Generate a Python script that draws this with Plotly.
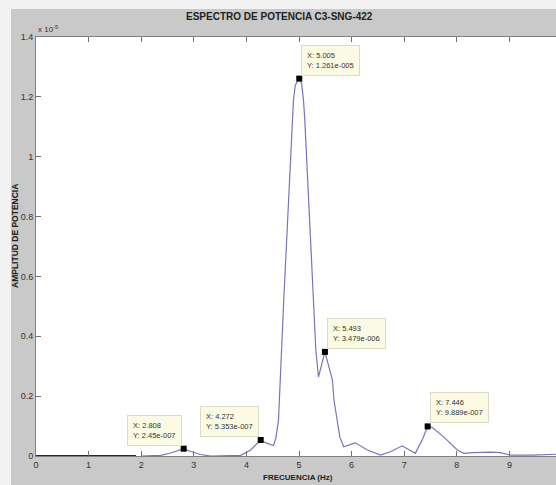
import plotly.graph_objects as go

# Power spectrum samples (frequency in Hz, power amplitude)
freq = [2.00, 2.37, 2.56, 2.808, 2.94, 3.13, 3.32, 3.60, 3.89, 4.08, 4.272,
        4.38, 4.515, 4.56, 4.61, 4.71, 4.87, 4.895, 4.93, 5.005, 5.05, 5.085,
        5.11, 5.27, 5.32, 5.37, 5.493, 5.635, 5.665, 5.775, 5.85, 6.07, 6.30,
        6.55, 6.74, 6.96, 7.09, 7.21, 7.34, 7.446, 7.53, 7.75, 8.01, 8.13,
        8.32, 8.64, 8.83, 9.02, 9.45, 9.90]
power = [0.0, 2.0e-8, 1.0e-7, 2.45e-7, 1.5e-7, 5.0e-8, 0.0, 0.0, 2.0e-8,
         2.0e-7, 5.353e-7, 4.3e-7, 3.5e-7, 6.0e-7, 1.2e-6, 5.21e-6, 1.123e-5,
         1.19e-5, 1.24e-5, 1.261e-5, 1.245e-5, 1.19e-5, 1.123e-5, 5.21e-6,
         3.54e-6, 2.64e-6, 3.479e-6, 2.54e-6, 1.87e-6, 6.4e-7, 3.1e-7,
         4.4e-7, 2.0e-7, 3.0e-8, 1.4e-7, 3.4e-7, 2.2e-7, 9.0e-8, 5.3e-7,
         9.889e-7, 9.6e-7, 6.4e-7, 2.0e-7, 9.0e-8, 1.1e-7, 1.3e-7, 1.1e-7,
         3.0e-8, 3.0e-8, 6.0e-8]

# Filtered (zero) band below the pass-band
band_freq = [0.0, 1.9]
band_power = [0.0, 0.0]

# Data tips
tip_freq = [2.808, 4.272, 5.005, 5.493, 7.446]
tip_power = [2.45e-7, 5.353e-7, 1.261e-5, 3.479e-6, 9.889e-7]
tip_side = ["left", "left", "right", "right", "right"]

x_ticks = list(range(10))
y_tickvals = [0, 2e-6, 4e-6, 6e-6, 8e-6, 1e-5, 1.2e-5, 1.4e-5]
y_ticktext = ["0", "0.2", "0.4", "0.6", "0.8", "1", "1.2", "1.4"]

FONT = "Liberation Sans Narrow, Liberation Sans, Arial, sans-serif"
W, H = 556, 485
ML, MR, MT, MB = 36, 0, 37, 29
PW, PH = W - ML - MR, H - MT - MB


def px_x(p):
    return (p - ML) / PW


def px_y(p):
    return (H - MB - p) / PH


def matlab_exp(v):
    mant, exp = f"{v:.4g}".split("e")
    sign = "-" if exp.startswith("-") else "+"
    return f"{mant}e{sign}{abs(int(exp)):03d}"


fig = go.Figure()
fig.add_trace(go.Scatter(x=band_freq, y=band_power, mode="lines",
                         line=dict(color="#1c1c78", width=2),
                         hoverinfo="skip", showlegend=False))
fig.add_trace(go.Scatter(x=freq, y=power, mode="lines",
                         line=dict(color="#7676ba", width=1.2),
                         showlegend=False))
fig.add_trace(go.Scatter(x=tip_freq, y=tip_power, mode="markers",
                         marker=dict(symbol="square", size=6, color="black"),
                         showlegend=False))

annotations = []
for f, p, side in zip(tip_freq, tip_power, tip_side):
    annotations.append(dict(
        x=f, y=p, xref="x", yref="y", showarrow=False,
        text=f"X: {f:.3f}<br>Y: {matlab_exp(p)}",
        align="left", xanchor="left" if side == "right" else "right",
        yanchor="bottom", xshift=2 if side == "right" else -2, yshift=3,
        bgcolor="#fbfbe3", bordercolor="#dcdcc4", borderwidth=1, borderpad=5,
        font=dict(family=FONT, size=7.5, color="#333333")))

annotations += [
    dict(text="<b>ESPECTRO DE POTENCIA C3-SNG-422</b>", xref="paper",
         yref="paper", x=px_x(279), y=px_y(17), showarrow=False,
         xanchor="center", yanchor="middle",
         font=dict(family=FONT, size=10, color="#222222")),
    dict(text="<b>FRECUENCIA (Hz)</b>", xref="paper", yref="paper",
         x=px_x(298), y=px_y(477), showarrow=False, xanchor="center",
         yanchor="middle", font=dict(family=FONT, size=8, color="#222222")),
    dict(text="<b>AMPLITUD DE POTENCIA</b>", xref="paper", yref="paper",
         x=px_x(15), y=px_y(236), showarrow=False, textangle=-90,
         xanchor="center", yanchor="middle",
         font=dict(family=FONT, size=8.5, color="#222222")),
    dict(text="x 10<sup>-5</sup>", xref="paper", yref="paper",
         x=px_x(36), y=px_y(29), showarrow=False, xanchor="left",
         yanchor="middle", font=dict(family=FONT, size=8, color="#333333")),
]

shapes = [
    # light page strips around the grey figure panel
    dict(type="rect", xref="paper", yref="paper", x0=px_x(0), x1=px_x(W + 2),
         y0=px_y(9), y1=px_y(-2), fillcolor="#f2f2f2", line=dict(width=0),
         layer="above"),
    dict(type="rect", xref="paper", yref="paper", x0=px_x(-2), x1=px_x(11),
         y0=px_y(H + 2), y1=px_y(-2), fillcolor="#f2f2f2",
         line=dict(width=0), layer="above"),
]

axis_common = dict(showgrid=False, zeroline=False, ticks="inside", ticklen=5,
                   tickcolor="#707070", showline=True, linecolor="#808080",
                   linewidth=1,
                   tickfont=dict(family=FONT, size=9, color="#333333"))

fig.update_layout(
    width=W, height=H, autosize=False,
    margin=dict(l=ML, r=MR, t=MT, b=MB, pad=0),
    paper_bgcolor="#c9c9c9", plot_bgcolor="white",
    xaxis=dict(range=[0, PW / 52.6], tickvals=x_ticks, mirror="ticks",
               **axis_common),
    yaxis=dict(range=[0, 1.4e-5], tickvals=y_tickvals, ticktext=y_ticktext,
               **axis_common),
    annotations=annotations, shapes=shapes, showlegend=False,
)

fig.write_html("out.html")
